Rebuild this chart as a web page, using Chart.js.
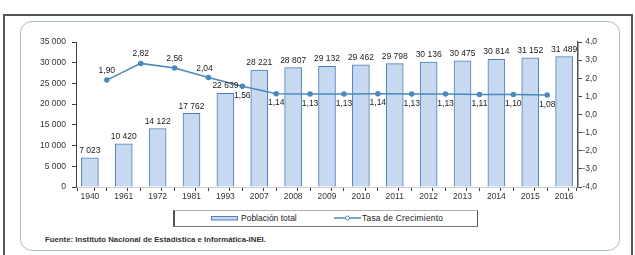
<!DOCTYPE html>
<html>
<head>
<meta charset="utf-8">
<script src="https://cdn.jsdelivr.net/npm/chart.js@4"></script>
<style>
  body { margin:0; width:635px; height:255px; overflow:hidden; background:#fff; position:relative;
         font-family:"Liberation Sans", Arial, sans-serif; }
  #frame { position:absolute; left:3px; top:14px; width:626px; height:260px; border:2px solid #555; }
  #panel { position:absolute; left:20px; top:21px; width:598px; height:228px;
           border:1.5px solid #a9bcd6; border-radius:12px; }
  #wrap { position:absolute; left:0; top:0; width:635px; height:205px; }
  #legend { position:absolute; left:173px; top:210px; width:302px; height:15px;
            border:1px solid #b0b0b0; border-left:2px solid #555; border-right:1.5px solid #555;
            border-bottom:1px solid #777; font-size:8.5px; color:#222; }
  #legend span { position:absolute; top:2px; }
  #source { position:absolute; left:45px; top:235px; font-size:7.8px; font-weight:bold; color:#333; }
</style>
</head>
<body>
<div id="frame"></div>
<div id="panel"></div>
<div id="wrap"><canvas id="myChart"></canvas></div>
<div id="legend">
  <svg style="position:absolute;left:36px;top:5px" width="28" height="5">
    <rect x="0.5" y="0.5" width="26" height="3.5" fill="#c6d9f0" stroke="#4f81bd" stroke-width="1"/>
  </svg>
  <span style="left:66px">Población total</span>
  <svg style="position:absolute;left:159px;top:3px" width="27" height="8">
    <line x1="0" y1="4" x2="27" y2="4" stroke="#4a89bd" stroke-width="1.5"/>
    <circle cx="13.5" cy="4" r="2" fill="#fff" stroke="#4a89bd" stroke-width="1"/>
  </svg>
  <span style="left:187px;letter-spacing:0.2px">Tasa de Crecimiento</span>
</div>
<div id="source">Fuente: Instituto Nacional de Estadística e Informática-INEI.</div>

<script>
var years = ["1940","1961","1972","1981","1993","2007","2008","2009","2010","2011","2012","2013","2014","2015","2016"];
var poblacion = [7023,10420,14122,17762,22639,28221,28807,29132,29462,29798,30136,30475,30814,31152,31489];
var tasa = [1.90,2.82,2.56,2.04,1.56,1.14,1.13,1.13,1.14,1.13,1.13,1.11,1.10,1.08];

var leftTicks = { min:0, max:35000, step:5000 };
var rightTicks = { min:-4, max:4, step:1 };

var fontFam = '"Liberation Sans", Arial, sans-serif';
Chart.defaults.font.family = fontFam;
Chart.defaults.font.size = 8.5;
Chart.defaults.color = "#333";

function fmtInt(v){ return String(v).replace(/\B(?=(\d{3})+(?!\d))/g, " "); }
function fmtDec(v, d){ return v.toFixed(d).replace(".", ","); }

var valueLabels = {
	id: "valueLabels",
	afterDatasetsDraw(chart){
		var ctx = chart.ctx;
		ctx.save();
		ctx.font = "8.5px " + fontFam;
		ctx.fillStyle = "#222";
		ctx.textAlign = "center";
		chart.getDatasetMeta(0).data.forEach((bar,i)=>{
			ctx.textBaseline = "bottom";
			ctx.fillText( fmtInt(poblacion[i]), bar.x, bar.y-3 );
		});
		chart.getDatasetMeta(1).data.forEach((pt,i)=>{
			var above = i < 4;
			ctx.textBaseline = above ? "bottom" : "top";
			ctx.fillText( fmtDec(tasa[i],2), pt.x - (i==3 ? 4 : 0), above ? pt.y-5 : pt.y+5 );
		});
		ctx.restore();
	}
};

window.onload = ()=>{

	var edge = 0.245;
	var barData = poblacion.map( (v,i)=>({ x:i, y:v }) );
	var lineData = tasa.map( (v,i)=>({ x:i+0.5, y:v }) );

	new Chart("myChart", {
		type: "bar",
		data: {
			datasets: [
			{
				type: "bar",
				label: "Población total",
				data: barData,
				backgroundColor: "#c6d9f0",
				borderColor: "#4a7ebb",
				borderWidth: { left:1, right:1, top:1, bottom:0 },
				borderSkipped: false,
				barThickness: 17,
				yAxisID: "y",
				order: 1
			},
			{
				type: "line",
				label: "Tasa de Crecimiento",
				data: lineData,
				borderColor: "#4a89bd",
				backgroundColor: "#4a89bd",
				borderWidth: 1.5,
				pointRadius: 2,
				pointBackgroundColor: "#4a89bd",
				fill: false,
				tension: 0,
				yAxisID: "y1",
				order: 0
			}
		]},
		options: {
			responsive: true,
			maintainAspectRatio: false,
			animation: false,
			layout: { padding: { top:42, left:0, right:38, bottom:0 } },
			plugins: { legend: {display:false}, tooltip: {enabled:false} },
			scales: {
				x: {
					type: "linear",
					min: -edge, max: years.length-1+edge,
					afterBuildTicks: s => {
						var t = [];
						years.forEach( (y,i)=>{ t.push({value:i-edge}, {value:i}, {value:i+edge}); });
						s.ticks = t;
					},
					afterFit: s => { s.height = 18; },
					ticks: {
						autoSkip: false, maxRotation: 0, padding: 1, color: "#333",
						callback: v => Number.isInteger(v) ? years[v] : ""
					},
					grid: {
						drawOnChartArea: false, tickLength: 4,
						tickColor: c => (c.tick && Number.isInteger(c.tick.value)) ? "rgba(0,0,0,0)" : "#404040"
					},
					border: { color: "#d0d0d0" }
				},
				y: {
					position: "left",
					min: leftTicks.min, max: leftTicks.max,
					afterFit: s => { s.width = 76; },
					ticks: { stepSize: leftTicks.step, padding: 6, callback: v => fmtInt(v) },
					grid: { drawOnChartArea: false, tickLength: 4, color: "#404040" },
					border: { color: "#404040", width: 1 }
				},
				y1: {
					position: "right",
					min: rightTicks.min, max: rightTicks.max,
					afterFit: s => { s.width = 19; },
					ticks: { stepSize: rightTicks.step, padding: 2, crossAlign: "far", callback: v => fmtDec(v,1) },
					grid: { drawOnChartArea: false, tickLength: 4, color: "#404040" },
					border: { color: "#505050", width: 1.5 }
				}
			}
		},
		plugins: [ valueLabels ]
	});

}
</script>
</body>
</html>
